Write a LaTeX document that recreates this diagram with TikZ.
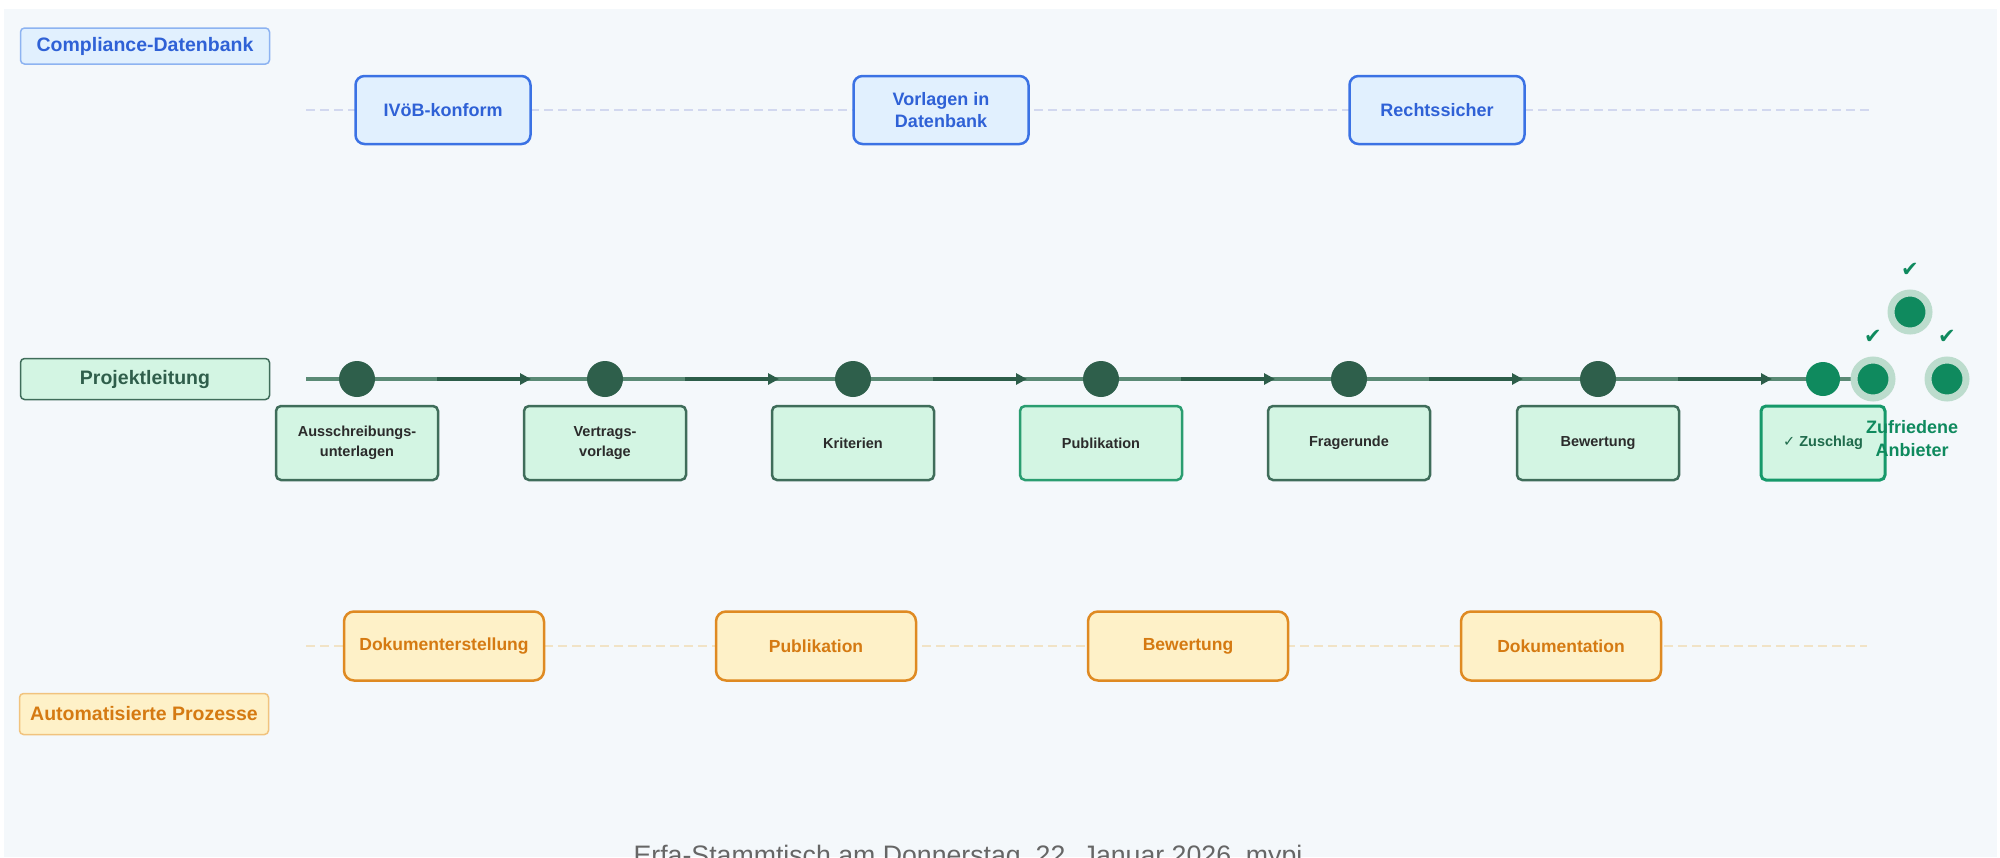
\documentclass[tikz,border=0pt]{standalone}
\usepackage{fontspec}
\setmainfont{Liberation Sans}
\newfontfamily\symfont{DejaVu Sans}
\usetikzlibrary{arrows.meta,calc}
\definecolor{pagebg}{HTML}{F4F8FB}
\definecolor{bfill}{HTML}{E1F0FE}
\definecolor{bstroke}{HTML}{3B72E4}
\definecolor{btext}{HTML}{2F61D6}
\definecolor{blanestroke}{HTML}{8DB3F1}
\definecolor{bdash}{HTML}{D2D8EF}
\definecolor{gfill}{HTML}{D3F5E3}
\definecolor{gstroke}{HTML}{3F6D5A}
\definecolor{gtext}{HTML}{2B2B2B}
\definecolor{glabel}{HTML}{2F5E4B}
\definecolor{gline}{HTML}{5A8A75}
\definecolor{gdark}{HTML}{2C5D49}
\definecolor{gdot}{HTML}{2E5F4B}
\definecolor{gpub}{HTML}{2A9D70}
\definecolor{gbright}{HTML}{0F8A5E}
\definecolor{gzu}{HTML}{16996A}
\definecolor{gzutext}{HTML}{1F6B4C}
\definecolor{halo}{HTML}{BCDCCD}
\definecolor{ofill}{HTML}{FEF1C8}
\definecolor{ostroke}{HTML}{DF8A22}
\definecolor{otext}{HTML}{D57A12}
\definecolor{olanestroke}{HTML}{F1C37E}
\definecolor{odash}{HTML}{F1E3C6}
\definecolor{foot}{HTML}{666666}
\tikzset{
  lanelbl/.style={rectangle, rounded corners=4pt, minimum width=249pt, inner sep=0pt, line width=1.5pt, font=\fontsize{19.5}{23}\selectfont\bfseries},
  topbox/.style={rectangle, rounded corners=9pt, minimum width=175pt, minimum height=68pt, inner sep=0pt, fill=bfill, draw=bstroke, line width=2.5pt, text=btext, align=center, font=\fontsize{18}{21.5}\selectfont\bfseries},
  stepbox/.style={rectangle, rounded corners=5pt, minimum width=162pt, minimum height=74pt, inner sep=0pt, fill=gfill, draw=gstroke, line width=2.5pt, text=gtext, align=center, font=\fontsize{14.5}{19.5}\selectfont\bfseries},
  procbox/.style={rectangle, rounded corners=10pt, minimum width=200pt, minimum height=69pt, inner sep=0pt, fill=ofill, draw=ostroke, line width=2.5pt, text=otext, align=center, font=\fontsize{17.5}{21}\selectfont\bfseries},
  tldot/.style={circle, inner sep=0pt, minimum size=36pt, fill=gdot},
  gooddot/.style={circle, inner sep=0pt, minimum size=34pt, fill=gbright},
  halodot/.style={circle, inner sep=0pt, minimum size=38pt, fill=gbright, draw=halo, line width=7pt},
  checkmk/.style={text=gbright, font=\symfont\fontsize{21}{21}\selectfont, inner sep=0pt},
  tlbase/.style={line width=4.5pt, draw=gline},
  tlarrow/.style={line width=4.5pt, draw=gdark, -{Triangle[length=11pt,width=11pt]}},
  lanedash/.style={line width=2.5pt, dash pattern=on 9pt off 5pt},
}
\begin{document}
\begin{tikzpicture}[x=1pt,y=-1pt]
\useasboundingbox (0,0) rectangle (2000,857);
\clip (0,0) rectangle (2000,857);
\fill[white] (0,0) rectangle (2000,857);
\fill[pagebg] (4,9) rectangle (1997,857);

% lane labels
\node[lanelbl, minimum height=36pt, fill=bfill, draw=blanestroke, text=btext] (lcomp) at (145,46) {Compliance-Datenbank};
\node[lanelbl, minimum height=41pt, fill=gfill, draw=gstroke, text=glabel] (lproj) at (145,379) {Projektleitung};
\node[lanelbl, minimum height=41pt, fill=ofill, draw=olanestroke, text=otext] (lauto) at (144,714) {Automatisierte Prozesse};

% compliance lane
\coordinate (bstart) at (306,110);
\coordinate (bend) at (1869,110);
\draw[lanedash, bdash] (bstart) -- (bend);
\node[topbox] (ivoeb) at (443,110) {IVöB-konform};
\node[topbox] (vorl) at (941,110) {Vorlagen in\\Datenbank};
\node[topbox] (recht) at (1437,110) {Rechtssicher};

% automation lane
\coordinate (ostart) at (306,646);
\coordinate (oend) at (1867,646);
\draw[lanedash, odash] (ostart) -- (oend);
\node[procbox] (pdok) at (444,646) {Dokumenterstellung};
\node[procbox] (ppub) at (816,646) {Publikation};
\node[procbox] (pbew) at (1188,646) {Bewertung};
\node[procbox] (pdoku) at (1561,646) {Dokumentation};

% timeline
\coordinate (tlstart) at (306,379);
\coordinate (tlend) at (1858,379);
\draw[tlbase] (tlstart) -- (tlend);
\node[tldot] (d1) at (357,379) {};
\node[tldot] (d2) at (605,379) {};
\node[tldot] (d3) at (853,379) {};
\node[tldot] (d4) at (1101,379) {};
\node[tldot] (d5) at (1349,379) {};
\node[tldot] (d6) at (1598,379) {};
\node[gooddot] (d7) at (1823,379) {};
\foreach \a in {d1,d2,d3,d4,d5,d6}{
  \draw[tlarrow] ([xshift=80pt]\a.center) -- ([xshift=174pt]\a.center);
}

% step boxes
\node[stepbox] (s1) at (357,443) {Ausschreibungs-\\unterlagen};
\node[stepbox] (s2) at (605,443) {Vertrags-\\vorlage};
\node[stepbox] (s3) at (853,443) {Kriterien};
\node[stepbox, draw=gpub] (s4) at (1101,443) {Publikation};
\node[stepbox] (s5) at (1349,443) {Fragerunde};
\node[stepbox] (s6) at (1598,443) {Bewertung};
\node[stepbox, minimum width=124pt, draw=gzu, line width=3pt, text=gzutext] (s7) at (1823,443) {{\symfont ✓} Zuschlag};

% satisfied bidders
\node[halodot] (h1) at (1873,379) {};
\node[halodot] (h2) at (1910,312) {};
\node[halodot] (h3) at (1947,379) {};
\node[checkmk] (c1) at ($(h1)+(0,-42)$) {✔};
\node[checkmk] (c2) at ($(h2)+(0,-42)$) {✔};
\node[checkmk] (c3) at ($(h3)+(0,-42)$) {✔};
\node[text=gbright, align=center, inner sep=0pt, font=\fontsize{18}{23}\selectfont\bfseries] (zuf) at (1912,439) {Zufriedene\\Anbieter};

% footer
\node[anchor=base, text=foot, inner sep=0pt, font=\fontsize{26.7}{30}\selectfont] (footer) at (968,864) {Erfa-Stammtisch am Donnerstag, 22. Januar 2026, mypi};
\end{tikzpicture}
\end{document}
